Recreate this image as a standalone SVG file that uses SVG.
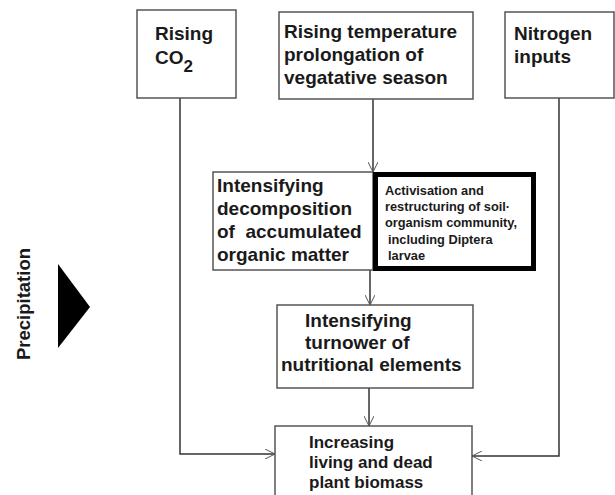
<svg xmlns="http://www.w3.org/2000/svg" width="615" height="495" viewBox="0 0 615 495">
<defs>
<style>
.box{fill:#fff;stroke:#555;stroke-width:1.5}
.thick{fill:#fff;stroke:#000;stroke-width:5}
.t{font-family:"Liberation Sans",Arial,sans-serif;font-weight:bold;fill:#1a1a1a}
.big{font-size:19px}
.med{font-size:17px}
.sm{font-size:12.8px}
.c{fill:none;stroke:#333;stroke-width:1.5}
</style>
<marker id="ah" viewBox="0 0 10 10" refX="10" refY="5" markerWidth="10" markerHeight="10" markerUnits="userSpaceOnUse" orient="auto">
<path d="M0,0 L10,5 L0,10" fill="none" stroke="#555" stroke-width="1"/>
</marker>
</defs>
<rect width="615" height="495" fill="#fff"/>
<g id="connectors">
<path class="c" d="M180,98 V454 H275" marker-end="url(#ah)"/>
<path class="c" d="M373,99 V172" marker-end="url(#ah)"/>
<path class="c" d="M559,98 V456 H472" marker-end="url(#ah)"/>
<path class="c" d="M370,270 V305" marker-end="url(#ah)"/>
<path class="c" d="M369,388 V426" marker-end="url(#ah)"/>
</g>
<g id="co2">
<rect class="box" x="137" y="10" width="99" height="88"/>
<text class="t big" x="155" y="40">Rising</text>
<text class="t big" x="155" y="64">CO<tspan dy="8" font-size="17">2</tspan></text>
</g>
<g id="temp">
<rect class="box" x="279" y="12" width="194" height="87"/>
<text class="t big" x="284" y="38">Rising temperature</text>
<text class="t big" x="284" y="61">prolongation of</text>
<text class="t big" x="284" y="84">vegatative season</text>
</g>
<g id="nitrogen">
<rect class="box" x="505" y="12" width="109" height="86"/>
<text class="t big" x="514" y="40">Nitrogen</text>
<text class="t big" x="514" y="63">inputs</text>
</g>
<g id="decomp">
<rect class="box" x="213" y="172" width="160" height="98"/>
<text class="t big" x="217" y="192">Intensifying</text>
<text class="t big" x="217" y="215">decomposition</text>
<text class="t big" x="217" y="238" xml:space="preserve">of  accumulated</text>
<text class="t big" x="217" y="261">organic matter</text>
</g>
<g id="activisation">
<rect class="thick" x="375.5" y="174.5" width="158" height="94"/>
<text class="t sm" x="385" y="195">Activisation and</text>
<text class="t sm" x="385" y="211">restructuring of soil·</text>
<text class="t sm" x="385" y="227">organism community,</text>
<text class="t sm" x="388" y="244">including Diptera</text>
<text class="t sm" x="388" y="260">larvae</text>
</g>
<g id="turnover">
<rect class="box" x="277" y="305" width="196" height="83"/>
<text class="t big" x="305" y="327">Intensifying</text>
<text class="t big" x="305" y="349">turnower of</text>
<text class="t big" x="281" y="371">nutritional elements</text>
</g>
<g id="biomass">
<rect class="box" x="275" y="426" width="197" height="80"/>
<text class="t med" x="309" y="448">Increasing</text>
<text class="t med" x="309" y="468">living and dead</text>
<text class="t med" x="309" y="488">plant biomass</text>
</g>
<g id="precipitation">
<text class="t" font-size="18.5" transform="translate(30,304) rotate(-90)" text-anchor="middle">Precipitation</text>
<polygon points="58,264 90,307 58,348" fill="#000"/>
</g>
</svg>
